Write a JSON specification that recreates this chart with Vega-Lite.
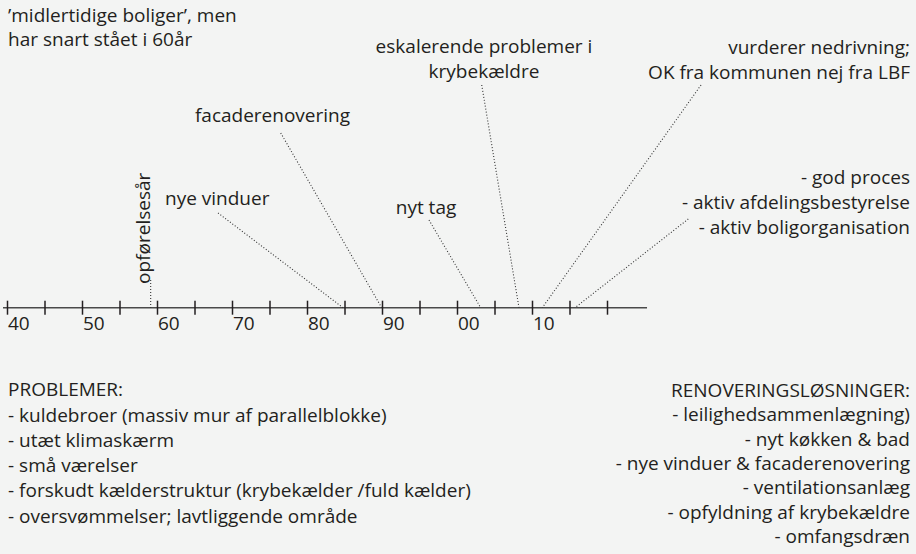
{
  "$schema": "https://vega.github.io/schema/vega-lite/v6.json",
  "width": 916,
  "height": 554,
  "autosize": {"type": "none"},
  "padding": 0,
  "background": "#f3f4f3",
  "config": {
    "view": {"stroke": null},
    "text": {"font": "Open Sans", "fontSize": 19, "color": "#231f20"}
  },
  "datasets": {
    "axisLine": [{"start": 1939.4, "end": 2025.27, "level": 0}],
    "ticks": [
      {"year": 1940}, {"year": 1945}, {"year": 1950}, {"year": 1955}, {"year": 1960},
      {"year": 1965}, {"year": 1970}, {"year": 1975}, {"year": 1980}, {"year": 1985},
      {"year": 1990}, {"year": 1995}, {"year": 2000}, {"year": 2005}, {"year": 2010},
      {"year": 2015}, {"year": 2020}
    ],
    "tickLabels": [
      {"year": 1940, "label": "40"}, {"year": 1950, "label": "50"}, {"year": 1960, "label": "60"},
      {"year": 1970, "label": "70"}, {"year": 1980, "label": "80"}, {"year": 1990, "label": "90"},
      {"year": 2000, "label": "00"}, {"year": 2010, "label": "10"}
    ],
    "leaders": [
      {"event": "opførelsesår", "x1": 1959.09, "y1": 2.77, "x2": 1959.09, "y2": 0},
      {"event": "nye vinduer", "x1": 1968.07, "y1": 9.47, "x2": 1984.73, "y2": 0},
      {"event": "facaderenovering", "x1": 1976.43, "y1": 17.47, "x2": 1989.89, "y2": 0},
      {"event": "nyt tag", "x1": 1996.2, "y1": 8.77, "x2": 2003.09, "y2": 0},
      {"event": "krybekældre", "x1": 2003.23, "y1": 22.27, "x2": 2008.2, "y2": 0},
      {"event": "nedrivning", "x1": 2032.47, "y1": 22.27, "x2": 2011.31, "y2": 0},
      {"event": "proces", "x1": 2030.77, "y1": 8.87, "x2": 2015.67, "y2": 0}
    ],
    "intro": [{"text": "’midlertidige boliger’, men\nhar snart stået i 60år", "year": 1940.07, "level": 29.17}],
    "centerNotes": [
      {"text": "nye vinduer", "year": 1967.96, "level": 10.87},
      {"text": "facaderenovering", "year": 1975.33, "level": 19.14},
      {"text": "nyt tag", "year": 1995.8, "level": 10.02},
      {"text": "eskalerende problemer i\nkrybekældre", "year": 2003.53, "level": 26.1}
    ],
    "rightNotes": [
      {"text": "vurderer nedrivning;\nOK fra kommunen nej fra LBF", "year": 2060.33, "level": 25.94},
      {"text": "- god proces\n- aktiv afdelingsbestyrelse\n- aktiv boligorganisation", "year": 2060.33, "level": 12.94}
    ],
    "problems": [{"text": "PROBLEMER:\n- kuldebroer (massiv mur af parallelblokke)\n- utæt klimaskærm\n- små værelser\n- forskudt kælderstruktur (krybekælder /fuld kælder)\n- oversvømmelser; lavtliggende område", "year": 1940.07, "level": -8.26}],
    "solutions": [{"text": "RENOVERINGSLØSNINGER:\n- leilighedsammenlægning)\n- nyt køkken & bad\n- nye vinduer & facaderenovering\n- ventilationsanlæg\n- opfyldning af krybekældre\n- omfangsdræn", "year": 2060.33, "level": -8.33}],
    "built": [{"text": "opførelsesår", "year": 1958.2, "level": 7.94}]
  },
  "layer": [
    {
      "data": {"name": "axisLine"},
      "mark": {"type": "rule", "color": "#4a4a4a", "strokeWidth": 1.6},
      "encoding": {
        "x": {"field": "start", "type": "quantitative", "scale": {"domain": [1939, 2061.1333], "nice": false, "zero": false}, "axis": null},
        "x2": {"field": "end"},
        "y": {"field": "level", "type": "quantitative", "scale": {"domain": [-24.63, 30.77], "nice": false, "zero": false}, "axis": null}
      }
    },
    {
      "data": {"name": "ticks"},
      "mark": {"type": "tick", "orient": "vertical", "size": 14, "thickness": 1.5, "color": "#231f20", "opacity": 1},
      "encoding": {
        "x": {"field": "year", "type": "quantitative", "scale": {"domain": [1939, 2061.1333], "nice": false, "zero": false}, "axis": null},
        "y": {"datum": 0, "type": "quantitative", "scale": {"domain": [-24.63, 30.77], "nice": false, "zero": false}, "axis": null}
      }
    },
    {
      "data": {"name": "tickLabels"},
      "mark": {"type": "text", "align": "left", "baseline": "middle", "dx": 0.5},
      "encoding": {
        "x": {"field": "year", "type": "quantitative", "scale": {"domain": [1939, 2061.1333], "nice": false, "zero": false}, "axis": null},
        "y": {"datum": -1.66, "type": "quantitative", "scale": {"domain": [-24.63, 30.77], "nice": false, "zero": false}, "axis": null},
        "text": {"field": "label"}
      }
    },
    {
      "data": {"name": "leaders"},
      "mark": {"type": "rule", "color": "#333333", "strokeWidth": 1.1, "strokeDash": [1, 2]},
      "encoding": {
        "x": {"field": "x1", "type": "quantitative", "scale": {"domain": [1939, 2061.1333], "nice": false, "zero": false}, "axis": null},
        "x2": {"field": "x2"},
        "y": {"field": "y1", "type": "quantitative", "scale": {"domain": [-24.63, 30.77], "nice": false, "zero": false}, "axis": null},
        "y2": {"field": "y2"}
      }
    },
    {
      "data": {"name": "intro"},
      "mark": {"type": "text", "align": "left", "baseline": "middle", "lineBreak": "\n", "lineHeight": 23.7},
      "encoding": {
        "x": {"field": "year", "type": "quantitative", "scale": {"domain": [1939, 2061.1333], "nice": false, "zero": false}, "axis": null},
        "y": {"field": "level", "type": "quantitative", "scale": {"domain": [-24.63, 30.77], "nice": false, "zero": false}, "axis": null},
        "text": {"field": "text"}
      }
    },
    {
      "data": {"name": "centerNotes"},
      "mark": {"type": "text", "align": "center", "baseline": "middle", "lineBreak": "\n", "lineHeight": 25.3},
      "encoding": {
        "x": {"field": "year", "type": "quantitative", "scale": {"domain": [1939, 2061.1333], "nice": false, "zero": false}, "axis": null},
        "y": {"field": "level", "type": "quantitative", "scale": {"domain": [-24.63, 30.77], "nice": false, "zero": false}, "axis": null},
        "text": {"field": "text"}
      }
    },
    {
      "data": {"name": "rightNotes"},
      "mark": {"type": "text", "align": "right", "baseline": "middle", "lineBreak": "\n", "lineHeight": 25},
      "encoding": {
        "x": {"field": "year", "type": "quantitative", "scale": {"domain": [1939, 2061.1333], "nice": false, "zero": false}, "axis": null},
        "y": {"field": "level", "type": "quantitative", "scale": {"domain": [-24.63, 30.77], "nice": false, "zero": false}, "axis": null},
        "text": {"field": "text"}
      }
    },
    {
      "data": {"name": "problems"},
      "mark": {"type": "text", "align": "left", "baseline": "middle", "lineBreak": "\n", "lineHeight": 25.3},
      "encoding": {
        "x": {"field": "year", "type": "quantitative", "scale": {"domain": [1939, 2061.1333], "nice": false, "zero": false}, "axis": null},
        "y": {"field": "level", "type": "quantitative", "scale": {"domain": [-24.63, 30.77], "nice": false, "zero": false}, "axis": null},
        "text": {"field": "text"}
      }
    },
    {
      "data": {"name": "solutions"},
      "mark": {"type": "text", "align": "right", "baseline": "middle", "lineBreak": "\n", "lineHeight": 24.3},
      "encoding": {
        "x": {"field": "year", "type": "quantitative", "scale": {"domain": [1939, 2061.1333], "nice": false, "zero": false}, "axis": null},
        "y": {"field": "level", "type": "quantitative", "scale": {"domain": [-24.63, 30.77], "nice": false, "zero": false}, "axis": null},
        "text": {"field": "text"}
      }
    },
    {
      "data": {"name": "built"},
      "mark": {"type": "text", "align": "center", "baseline": "middle", "angle": 270},
      "encoding": {
        "x": {"field": "year", "type": "quantitative", "scale": {"domain": [1939, 2061.1333], "nice": false, "zero": false}, "axis": null},
        "y": {"field": "level", "type": "quantitative", "scale": {"domain": [-24.63, 30.77], "nice": false, "zero": false}, "axis": null},
        "text": {"field": "text"}
      }
    }
  ]
}
